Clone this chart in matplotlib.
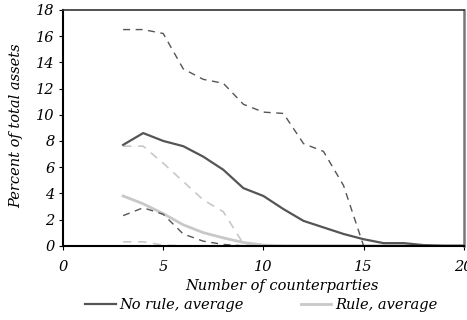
import matplotlib.pyplot as plt

plt.rcParams['font.family'] = 'DejaVu Serif'
plt.rcParams['font.style'] = 'italic'

counterparties = [3, 4, 5, 6, 7, 8, 9, 10, 11, 12, 13, 14, 15, 16, 17, 18, 19, 20]

no_rule_avg = [7.7, 8.6, 8.0, 7.6, 6.8, 5.8, 4.4, 3.8, 2.8, 1.9, 1.4, 0.9, 0.5, 0.2, 0.2, 0.05, 0.0, 0.0]
no_rule_high = [16.5, 16.5, 16.2, 13.5, 12.7, 12.4, 10.8, 10.2, 10.1, 7.8, 7.2, 4.6, 0.0, 0.0, 0.0, 0.0, 0.0, 0.0]
no_rule_low = [2.3, 2.9, 2.4, 0.9, 0.35, 0.1, 0.0, 0.0, 0.0, 0.0, 0.0, 0.0, 0.0, 0.0, 0.0, 0.0, 0.0, 0.0]
rule_avg = [3.8, 3.2, 2.45, 1.6, 1.0, 0.6, 0.25, 0.05, 0.0, 0.0, 0.0, 0.0, 0.0, 0.0, 0.0, 0.0, 0.0, 0.0]
rule_high = [7.6, 7.6, 6.3, 4.9, 3.5, 2.6, 0.15, 0.0, 0.0, 0.0, 0.0, 0.0, 0.0, 0.0, 0.0, 0.0, 0.0, 0.0]
rule_low = [0.3, 0.3, 0.05, 0.0, 0.0, 0.0, 0.0, 0.0, 0.0, 0.0, 0.0, 0.0, 0.0, 0.0, 0.0, 0.0, 0.0, 0.0]

dark = '#555555'
light = '#c8c8c8'

fig = plt.figure(figsize=(4.67, 3.2), dpi=100)
ax = fig.add_axes([0.135, 0.232, 0.858, 0.737])

ax.plot(counterparties, rule_high, color=light, linestyle=(0, (5, 4)), linewidth=1.2)
ax.plot(counterparties, rule_low, color=light, linestyle=(0, (5, 4)), linewidth=1.2)
ax.plot(counterparties, rule_avg, color=light, linewidth=2, label='Rule, average')
ax.plot(counterparties, no_rule_high, color=dark, linestyle=(0, (5, 4)), linewidth=1.0)
ax.plot(counterparties, no_rule_low, color=dark, linestyle=(0, (5, 4)), linewidth=1.0)
ax.plot(counterparties, no_rule_avg, color=dark, linewidth=1.6, label='No rule, average')

ax.set_xlim(0, 20)
ax.set_ylim(0, 18)
ax.set_xticks([0, 5, 10, 15, 20])
ax.set_yticks(range(0, 19, 2))
ax.tick_params(axis='both', labelsize=10.5, length=3, width=0.8)
ax.tick_params(axis='x', pad=7)
ax.tick_params(axis='y', pad=3)

ax.spines['left'].set_color('black')
ax.spines['left'].set_linewidth(1.5)
ax.spines['bottom'].set_color('black')
ax.spines['bottom'].set_linewidth(1.5)
ax.spines['top'].set_color('#333333')
ax.spines['top'].set_linewidth(1.2)
ax.spines['right'].set_color('#777777')
ax.spines['right'].set_linewidth(1.8)

ax.set_xlabel('Number of counterparties', fontsize=10.5)
ax.xaxis.set_label_coords(0.546, -0.14)
ax.set_ylabel('Percent of total assets', fontsize=10.5)
ax.yaxis.set_label_coords(-0.10, 0.51)

handles, labels = ax.get_legend_handles_labels()
fig.legend(handles[::-1], labels[::-1], loc='center left', ncol=2, frameon=False,
           fontsize=10.5, handlelength=2.1, handletextpad=0.25, columnspacing=3.9,
           borderpad=0, borderaxespad=0,
           bbox_to_anchor=(85 / 467, 1 - 305 / 320))

fig.savefig('out.png')
